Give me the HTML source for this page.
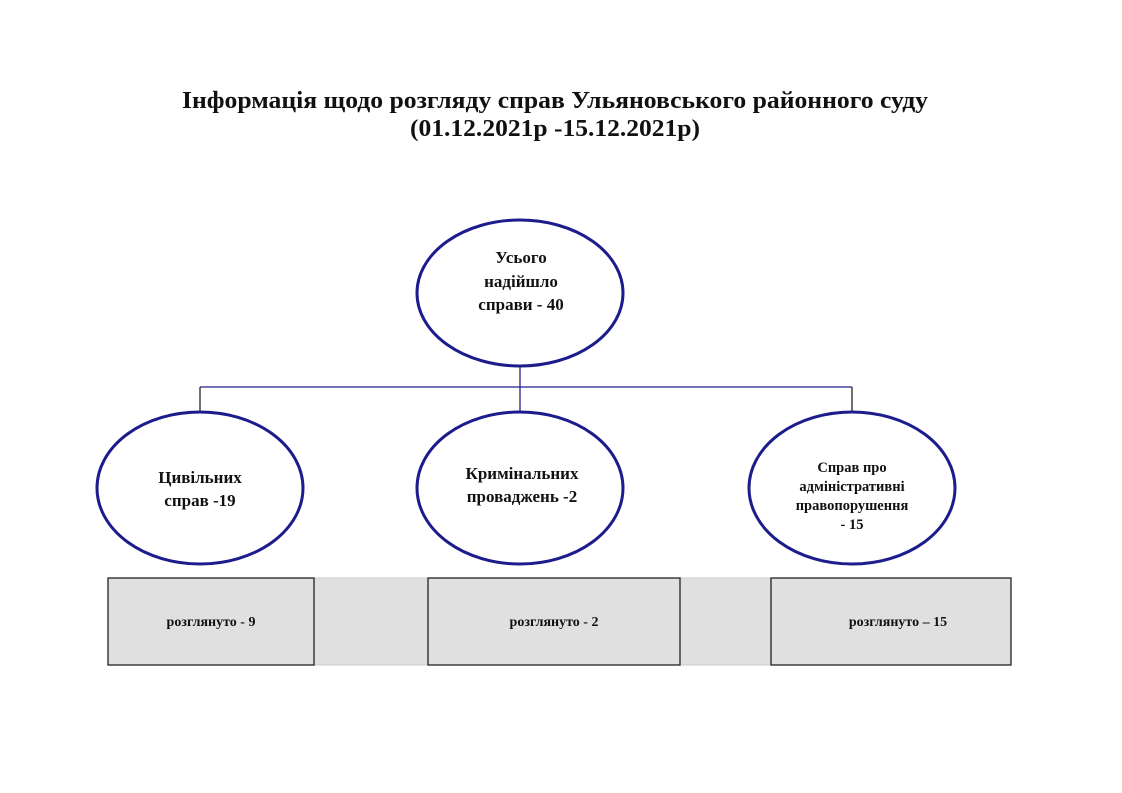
<!DOCTYPE html>
<html><head><meta charset="utf-8"><style>
html,body{margin:0;padding:0;background:#fff;width:1122px;height:793px;overflow:hidden}
svg text{font-family:"Liberation Serif",serif;font-weight:bold;fill:#111}
</style></head><body>
<svg width="1122" height="793" viewBox="0 0 1122 793">
<text x="555" y="108" font-size="24" text-anchor="middle" textLength="746" lengthAdjust="spacingAndGlyphs">Інформація щодо розгляду справ Ульяновського районного суду</text>
<text x="555" y="136" font-size="24" text-anchor="middle" textLength="290" lengthAdjust="spacingAndGlyphs">(01.12.2021р -15.12.2021р)</text>
<g stroke="#1f1f8a" stroke-width="1.3" fill="none">
<line x1="200" y1="387" x2="852" y2="387"/>
<line x1="520" y1="367" x2="520" y2="412"/>
</g>
<g stroke="#222" stroke-width="1.3">
<line x1="200" y1="387" x2="200" y2="412"/>
<line x1="852" y1="387" x2="852" y2="412"/>
</g>
<g stroke="#1c1c8c" stroke-width="3" fill="#fff">
<ellipse cx="520" cy="293" rx="103" ry="73"/>
<ellipse cx="200" cy="488" rx="103" ry="76"/>
<ellipse cx="520" cy="488" rx="103" ry="76"/>
<ellipse cx="852" cy="488" rx="103" ry="76"/>
</g>
<g font-size="17" text-anchor="middle">
<text x="521" y="263">Усього</text>
<text x="521" y="287">надійшло</text>
<text x="521" y="310">справи - 40</text>
<text x="200" y="483">Цивільних</text>
<text x="200" y="506">справ -19</text>
<text x="522" y="479">Кримінальних</text>
<text x="522" y="502">проваджень -2</text>
</g>
<g font-size="14.5" text-anchor="middle">
<text x="852" y="472">Справ про</text>
<text x="852" y="491">адміністративні</text>
<text x="852" y="510">правопорушення</text>
<text x="852" y="529">- 15</text>
</g>
<rect x="108" y="578" width="903" height="87" fill="#e0e0e0" stroke="#ccc" stroke-width="1"/>
<g fill="#e0e0e0" stroke="#222" stroke-width="1.3">
<rect x="108" y="578" width="206" height="87"/>
<rect x="428" y="578" width="252" height="87"/>
<rect x="771" y="578" width="240" height="87"/>
</g>
<g font-size="14" text-anchor="middle">
<text x="211" y="626">розглянуто - 9</text>
<text x="554" y="626">розглянуто - 2</text>
<text x="898" y="626">розглянуто – 15</text>
</g>
</svg>
</body></html>
